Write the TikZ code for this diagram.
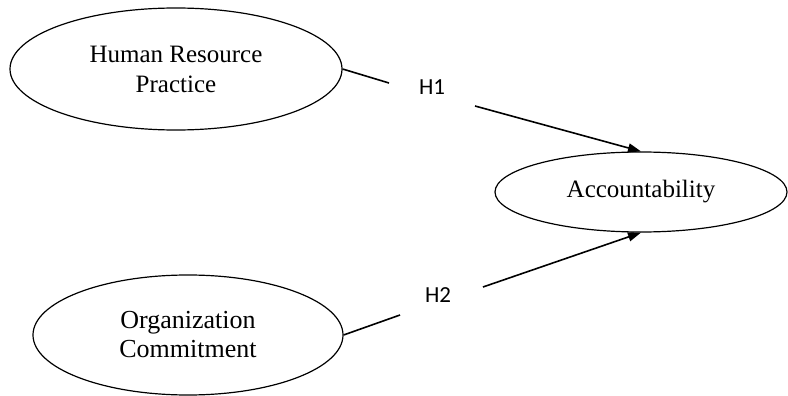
\documentclass[tikz,border=0pt]{standalone}
\usepackage{fontspec}
\setmainfont{Liberation Serif}
\newfontfamily\hfont{Carlito}
\usetikzlibrary{shapes.geometric,arrows.meta}
\begin{document}
\begin{tikzpicture}[x=1pt,y=-1pt,
  construct/.style={ellipse,draw,line width=1.2pt,inner sep=0pt,align=center},
  hlabel/.style={font=\hfont\fontsize{23}{27}\selectfont,inner sep=0pt},
  link/.style={line width=1.6pt},
  arr/.style={line width=1.6pt,-{Triangle[length=13pt,width=9pt]}}]
\useasboundingbox (0,0) rectangle (788,396);
\node[construct,minimum width=332pt,minimum height=122pt,font=\fontsize{25}{30}\selectfont] (hrp) at (176,69) {\raisebox{6pt}{\parbox{200pt}{\centering Human Resource\\Practice}}};
\node[construct,minimum width=292pt,minimum height=80pt,font=\fontsize{25}{30}\selectfont] (acc) at (641,192) {Accountability};
\node[construct,minimum width=310pt,minimum height=120pt,font=\fontsize{26}{29}\selectfont] (oc) at (188,335) {\raisebox{3pt}{\parbox{200pt}{\centering Organization\\Commitment}}};
\node[hlabel] (h1) at (432,87) {H1};
\node[hlabel] (h2) at (438,295) {H2};
\coordinate (a1) at (389,83);
\coordinate (b1) at (475,106);
\coordinate (a2) at (400,315);
\coordinate (b2) at (483,287);
\draw[link] (hrp.east) -- (a1);
\draw[arr] (b1) -- (acc.north);
\draw[link] (oc.east) -- (a2);
\draw[arr] (b2) -- (acc.south);
\end{tikzpicture}
\end{document}
